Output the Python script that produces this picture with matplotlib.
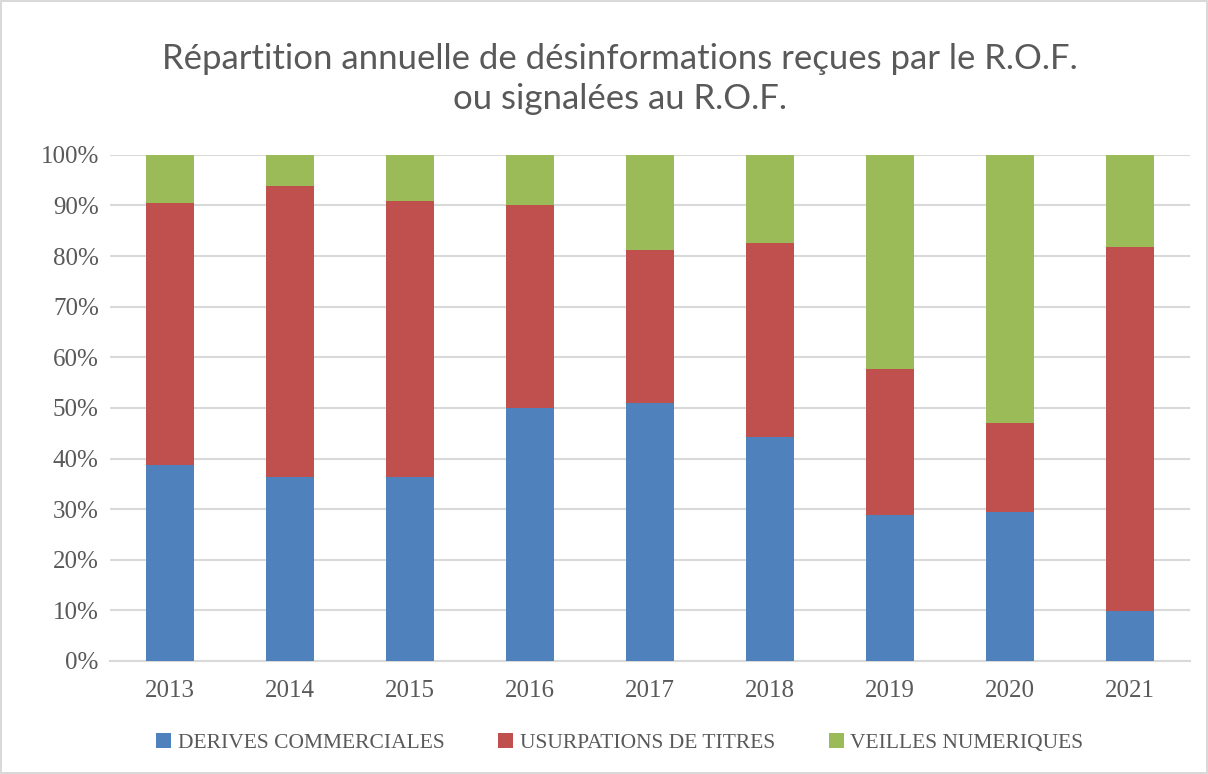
import matplotlib.pyplot as plt
from matplotlib.ticker import PercentFormatter

# Données (pourcentages)
annees = ["2013", "2014", "2015", "2016", "2017", "2018", "2019", "2020", "2021"]
derives = [38.7, 36.4, 36.4, 50.0, 50.9, 44.3, 28.8, 29.4, 9.8]
usurpations = [51.7, 57.5, 54.4, 40.0, 30.3, 38.2, 28.8, 17.6, 71.9]
veilles = [9.6, 6.1, 9.2, 10.0, 18.8, 17.5, 42.4, 53.0, 18.3]

series = ["DERIVES COMMERCIALES", "USURPATIONS DE TITRES", "VEILLES NUMERIQUES"]
couleurs = ["#4F81BD", "#C0504D", "#9BBB59"]
gris = "#595959"

fig = plt.figure(figsize=(12.08, 7.74), dpi=100)
fig.patch.set_edgecolor("#D9D9D9")
fig.patch.set_linewidth(1.5)
ax = fig.add_axes([0.091, 0.146, 0.894, 0.654])

x = range(len(annees))
bas = [0] * len(annees)
for valeurs, nom, c in zip([derives, usurpations, veilles], series, couleurs):
    ax.bar(x, valeurs, bottom=bas, width=0.4, color=c, label=nom, zorder=3)
    bas = [b + v for b, v in zip(bas, valeurs)]

ax.set_xlim(-0.5, len(annees) - 0.5)
ax.set_ylim(0, 100)
ax.set_yticks(range(0, 101, 10))
ax.yaxis.set_major_formatter(PercentFormatter(decimals=0))
ax.set_xticks(list(x))
ax.set_xticklabels(annees)
ax.grid(axis="y", color="#D9D9D9", linewidth=1.5, zorder=0)
for s in ["top", "right", "left"]:
    ax.spines[s].set_visible(False)
ax.spines["bottom"].set_color("#D9D9D9")
ax.spines["bottom"].set_linewidth(1.5)
ax.tick_params(length=0, colors=gris, labelsize=18)
ax.tick_params(axis="x", pad=14)
ax.tick_params(axis="y", pad=8)
for lab in ax.get_xticklabels() + ax.get_yticklabels():
    lab.set_family("Liberation Serif")

fig.text(0.513, 0.898, "Répartition annuelle de désinformations reçues par le R.O.F.\nou signalées au R.O.F.",
         ha="center", va="center", fontsize=25, color=gris, family="Lato", linespacing=1.28)

leg = fig.legend(loc="center", bbox_to_anchor=(0.513, 0.04), ncol=3, frameon=False,
                 prop={"family": "Liberation Serif", "size": 15.5},
                 handlelength=0.7, handleheight=0.7, handletextpad=0.3, columnspacing=2.5)
for t in leg.get_texts():
    t.set_color(gris)

fig.savefig("out.png", dpi=100)
